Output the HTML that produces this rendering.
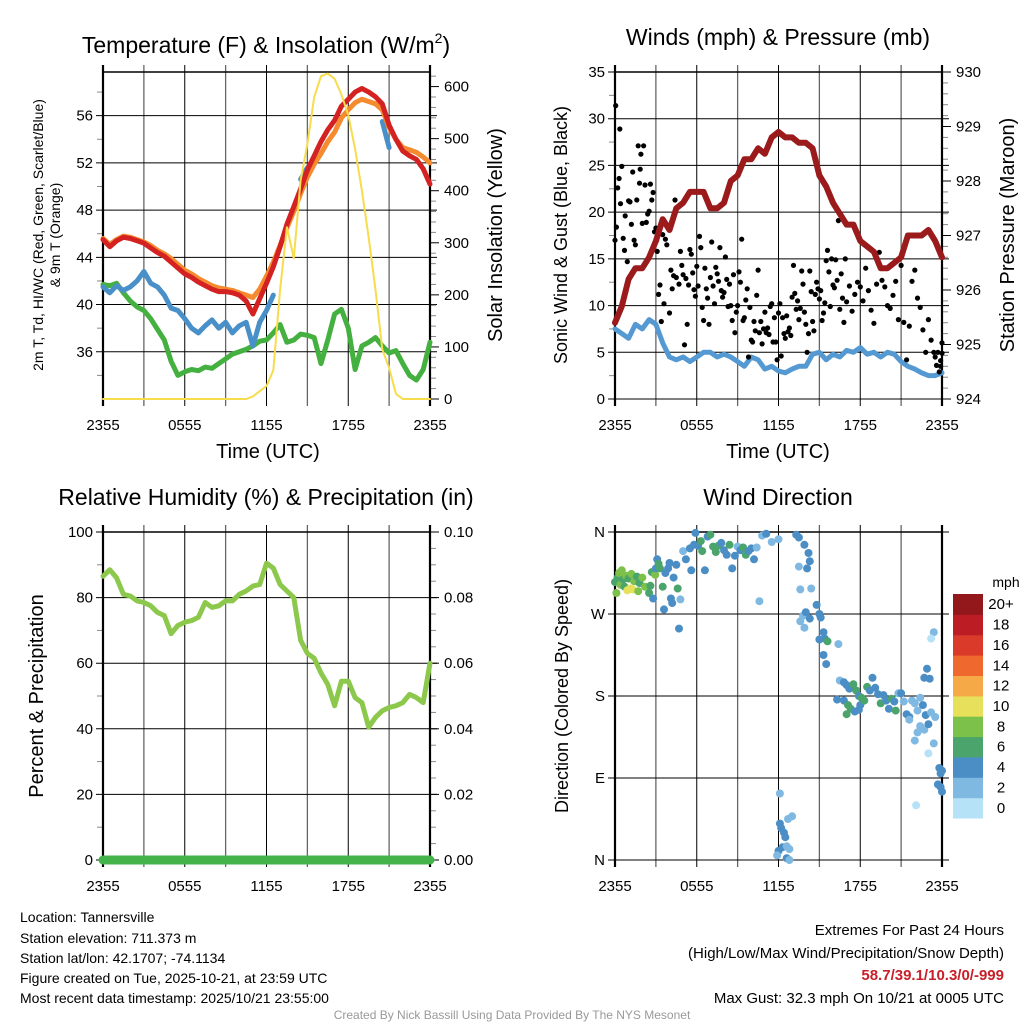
<!DOCTYPE html>
<html><head><meta charset="utf-8">
<style>
html,body{margin:0;padding:0;background:#fff;}
svg{display:block;font-family:"Liberation Sans",sans-serif;}
</style></head>
<body>
<svg id="c" width="1024" height="1024" viewBox="0 0 1024 1024">
<g id="layer"></g>
<text x="20" y="922" font-size="14">Location: Tannersville</text>
<text x="20" y="943" font-size="14">Station elevation: 711.373 m</text>
<text x="20" y="963" font-size="14">Station lat/lon: 42.1707; -74.1134</text>
<text x="20" y="983" font-size="14">Figure created on Tue, 2025-10-21, at 23:59 UTC</text>
<text x="20" y="1003" font-size="14">Most recent data timestamp: 2025/10/21 23:55:00</text>
<text x="1004" y="935" font-size="15" text-anchor="end">Extremes For Past 24 Hours</text>
<text x="1004" y="958" font-size="15" text-anchor="end">(High/Low/Max Wind/Precipitation/Snow Depth)</text>
<text x="1004" y="980" font-size="15" font-weight="bold" fill="#c8202a" text-anchor="end">58.7/39.1/10.3/0/-999</text>
<text x="1004" y="1003" font-size="15" text-anchor="end">Max Gust: 32.3 mph On 10/21 at 0005 UTC</text>
<text x="512" y="1019" font-size="12" fill="#999" text-anchor="middle">Created By Nick Bassill Using Data Provided By The NYS Mesonet</text>
<text x="266" y="53" font-size="23" text-anchor="middle">Temperature (F) &amp; Insolation (W/m<tspan font-size="14" dy="-10">2</tspan><tspan dy="10">)</tspan></text>
</svg>
<script>
// ---- data (time index: half-hour steps from 2355) ----
const xTickLabels = ["2355","0555","1155","1755","2355"];
const tempRed = [45.5,44.9,45.4,45.7,45.6,45.4,45.2,44.8,44.4,44.1,43.6,43.1,42.6,42.3,41.9,41.6,41.3,41.1,41.1,41.0,40.8,40.3,39.2,40.5,41.8,43.2,44.9,46.8,48.3,49.8,51.4,52.6,53.8,54.8,55.6,56.8,57.4,58.0,58.3,58.0,57.6,57.0,55.2,54.0,53.0,52.6,52.3,51.5,50.2];
const tempOrange = [45.6,45.1,45.5,45.8,45.7,45.5,45.3,45.0,44.6,44.3,43.9,43.4,42.9,42.6,42.2,41.9,41.6,41.4,41.3,41.2,41.0,40.8,40.6,41.3,42.4,43.6,45.0,46.5,47.9,49.4,50.8,51.9,52.8,53.8,54.6,55.8,56.5,57.1,57.4,57.2,57.0,56.5,55.0,54.0,53.3,53.1,52.9,52.5,52.0];
const tempBlue = [41.5,41.0,41.6,41.2,41.5,42.0,42.8,41.8,41.5,40.8,39.7,39.5,38.8,38.0,37.6,38.2,38.7,38.0,38.5,37.6,38.2,38.5,36.5,38.5,39.5,40.8,null,null,null,50.6,51.6,52.0,null,null,null,null,null,null,null,null,null,55.5,53.3,null,null,null,null,null,null];
const dewGreen = [41.7,41.6,41.8,41.0,40.3,39.8,39.5,38.8,37.9,37.0,35.2,34.0,34.3,34.5,34.4,34.7,34.6,35.0,35.4,35.8,36.0,36.2,36.5,36.9,37.0,37.6,38.3,36.8,37.0,37.5,37.4,37.2,35.0,37.0,39.2,39.6,38.0,34.5,36.5,36.8,37.2,36.5,35.9,36.1,35.0,34.0,33.6,34.5,36.8];
const solar = [0,0,0,0,0,0,0,0,0,0,0,0,0,0,0,0,0,0,0,0,0,0,5,15,25,55,210,330,270,420,490,580,620,625,615,585,545,480,400,310,210,95,60,10,0,0,0,0,0];
const windBlue = [7.5,7,6.5,8,7.5,8.5,8,6,4.5,4.2,4.5,4,4.5,5,5,4.5,4.8,4.5,4,3.5,4.5,4.2,3.2,3.5,3,2.8,3.2,3.5,3.5,4.8,5,4.2,4.8,4.5,5.2,5,5.5,4.8,5,4.5,5,4.8,4,3.5,3.2,2.8,2.5,2.5,2.8];
const pressure = [925.4,925.7,926.2,926.4,926.4,926.6,926.9,927.3,927.1,927.5,927.6,927.8,927.8,927.8,927.5,927.5,927.6,928.0,928.1,928.4,928.4,928.6,928.5,928.8,928.9,928.8,928.8,928.7,928.7,928.6,928.1,927.9,927.6,927.4,927.2,927.2,926.9,926.8,926.7,926.4,926.4,926.5,926.6,927.0,927.0,927.0,927.1,926.9,926.6];
const gustTime = [0,0.05,0.1,0.2,0.3,0.35,0.4,0.5,0.6,0.7,0.75,0.9,1.0,1.1,1.2,1.3,1.4,1.5,1.6,1.7,1.8,1.85,1.9,2.0,2.1,2.2,2.3,2.4,2.5,2.6,2.7,2.8,2.9,3.0,3.05,3.1,3.2,3.3,3.4,3.5,3.6,3.7,3.8,4.0,4.1,4.2,4.3,4.4,4.5,4.7,4.8,4.9,5.0,5.1,5.2,5.3,5.4,5.5,5.6,5.7,5.8,5.9,6.0,6.1,6.2,6.3,6.4,6.5,6.6,6.7,6.8,6.9,7.0,7.1,7.2,7.3,7.4,7.5,7.6,7.7,7.8,7.9,8.0,8.1,8.2,8.3,8.4,8.5,8.6,8.7,8.8,8.9,9.0,9.1,9.2,9.3,9.4,9.5,9.6,9.7,9.8,9.9,10.0,10.1,10.2,10.3,10.4,10.5,10.6,10.7,10.8,10.9,11.0,11.1,11.2,11.3,11.4,11.5,11.6,11.7,11.8,11.9,12.0,12.1,12.2,12.3,12.4,12.5,12.6,12.7,12.8,12.9,13.0,13.1,13.2,13.3,13.4,13.5,13.6,13.7,13.8,13.9,14.0,14.1,14.2,14.3,14.4,14.5,14.6,14.7,14.8,14.9,15.0,15.1,15.2,15.3,15.4,15.5,15.6,15.7,15.8,15.9,16.0,16.1,16.2,16.3,16.4,16.5,16.6,16.7,16.8,16.9,17.0,17.2,17.4,17.6,17.8,18.0,18.2,18.4,18.6,18.8,19.0,19.2,19.4,19.6,19.8,20.0,20.2,20.4,20.6,20.8,21.0,21.2,21.4,21.6,21.8,22.0,22.2,22.4,22.6,22.8,23.0,23.2,23.4,23.5,23.6,23.7,23.8,23.9,24.0,23.9,24.0];
const gustSpeed = [17,31.4,18.4,22.6,23.6,28.9,20.9,24.9,17.2,15.9,19.6,14.7,21.2,21.1,18.7,24.3,17,16.5,21.3,27.1,23.1,24.6,26.2,18.8,27.1,22.9,18.9,19.8,20.1,23,21.3,22.1,17.9,18.3,17,15.8,11.2,12.2,8.3,17.6,10.2,17.1,16.5,9.2,13.8,11.8,13.2,21.3,13,12.3,15.8,14.3,13.3,5.8,12.9,8,12.2,16,15.5,13.5,11.7,11,14.2,12.1,17.4,16.2,9.8,8.4,14,11.8,10.8,8.0,13,16.8,12.1,10.2,14.1,13.4,12.6,16.2,11.6,10.9,11.4,15.2,12.8,9.9,12.3,10,8.4,13.3,7.1,9.3,10,13.6,12.5,17.1,8.4,8.7,10.6,11.8,4.5,9.8,6.3,6.1,8.3,7.3,11.1,13.8,7.1,8.3,5.9,7.5,9.3,7.1,7.6,6.9,9.9,10.2,6.1,8.7,6.1,4.2,9.2,10.2,4.6,8.7,7.0,6.5,8.9,7.2,7.6,6.8,10.9,14.3,11.3,9.6,10.5,8.5,9.7,13.7,12.3,9.3,8.0,5.0,7.0,13.7,11.5,8.3,7.3,11.2,12.5,11.8,10.7,11.6,8.4,9.2,10.3,14.8,15.9,13.6,9.9,15.0,12.2,11.9,14.9,12.7,19.1,9.6,13.4,10.8,8.2,15.0,10.4,12.1,9.4,11.2,12.5,12.0,10.5,14.0,11.6,9.5,8.1,12.3,15.7,12.7,12.0,10.0,9.7,11.1,12.6,8.5,14.3,8.2,4.2,7.8,12.6,13.8,10.8,9.8,7.4,5.0,8.5,6.3,5.0,4.5,3.6,5.0,2.9,4.1,6.0,3.5,4.9];
const rh = [86.5,88.5,86,81,80.5,79,78.5,77.5,75.5,74.5,69,71.5,72.5,73,74,78.5,77,77.5,79,79,81,82,83.5,84,90.5,89,84,82,80,67,63,61.5,57,53.5,47,54.5,54.5,49.5,48,40.5,43.5,45.5,46.5,47,48,50.5,49.5,48,60];
const precip = [0,0,0,0,0,0,0,0,0,0,0,0,0,0,0,0,0,0,0,0,0,0,0,0,0,0,0,0,0,0,0,0,0,0,0,0,0,0,0,0,0,0,0,0,0,0,0,0,0];
const dirTime = [0.0,0.1,0.2,0.3,0.4,0.5,0.6,0.7,0.8,0.9,1.0,1.1,1.2,1.3,1.4,1.6,1.7,1.8,2.0,2.2,2.5,2.6,2.7,2.8,2.95,3.0,3.1,3.2,3.3,3.5,3.6,3.7,3.9,4.0,4.1,4.2,4.3,4.5,4.6,4.8,4.7,5.0,5.2,5.5,5.6,5.8,5.9,6.1,6.3,6.4,6.6,6.8,7.0,7.2,7.4,7.6,7.8,8.0,8.2,8.4,8.6,8.8,9.0,9.2,9.4,9.6,9.8,10.0,10.2,10.4,10.6,10.8,11.1,11.5,12.0,12.1,12.1,12.2,12.4,12.5,12.3,12.0,11.9,12.6,12.8,12.7,13.0,12.6,12.8,13.3,13.5,13.9,14.2,14.3,14.1,13.5,13.6,14.4,13.8,14.0,14.3,13.9,13.6,14.8,15.0,15.1,15.3,15.4,15.0,15.6,15.3,15.5,16.4,16.5,16.8,17.0,17.2,17.5,17.7,17.9,18.0,18.1,16.3,16.8,17.1,17.3,17.0,17.6,17.9,18.3,18.5,18.7,18.9,19.1,19.3,19.5,19.7,19.9,20.1,20.3,20.5,20.6,20.8,21.0,21.2,21.4,21.6,21.8,22.0,22.2,22.4,22.6,22.8,22.4,22.7,22.2,22.0,21.6,23.0,23.2,23.5,23.4,23.0,23.4,23.2,22.1,23.8,23.9,24.0,23.7,23.9,24.0,22.7,23.1,22.9];
const dirDeg = [305,293,310,315,302,318,308,300,312,296,309,298,314,297,306,311,295,304,310,300,293,301,316,287,313,320,330,325,320,300,275,315,320,326,287,282,310,324,298,286,254,339,330,342,318,346,359,345,350,339,318,355,357,344,338,345,348,340,335,346,320,334,344,340,343,335,339,342,330,343,284,356,358,349,352,73,40,35,30,25,14,10,5,15,12,45,48,2,0,357,354,346,337,328,320,322,297,298,268,272,265,255,262,280,270,266,250,243,242,240,225,215,237,197,195,192,188,193,186,180,170,178,176,175,170,166,160,163,165,175,190,186,200,189,182,172,181,175,166,177,174,164,183,183,174,160,157,175,172,164,178,170,159,147,143,140,131,154,149,162,157,128,117,250,243,60,101,95,98,83,80,75,200,199,210];
const dirSpeed = [7,8,7,8,8,9,6,7,8,11,7,10,8,11,8,7,8,7,9,8,6,6,7,4,8,5,5,6,6,6,4,4,5,4,4,4,5,4,6,2,4,2,4,4,4,4,4,5,6,6,4,4,6,6,6,7,4,4,4,6,4,4,2,4,6,6,4,4,4,3,2,2,4,3,3,3,4,4,4,4,4,4,3,3,2,2,2,4,2,4,4,4,4,4,4,3,3,3,3,4,4,3,3,4,4,4,4,4,4,6,4,4,3,3,4,4,4,6,6,4,4,6,4,4,6,6,6,4,4,6,6,4,4,4,4,6,4,4,4,6,4,6,3,4,3,4,4,3,2,2,3,4,4,3,3,2,2,2,4,3,2,2,1,2,1,1,4,4,4,4,4,4,4,4,4];
const speedBins = ["0","2","4","6","8","10","12","14","16","18","20+"];
const binColors = ["#b5e2f7","#7fb9e2","#4a8ec5","#4aa46c","#7cc14a","#e6e05a","#f5a947","#ef682d","#da3a2a","#bc1d24","#93181b"];

const NS="http://www.w3.org/2000/svg";
const layer=document.getElementById('layer');
function mk(tag,attrs,parent){const e=document.createElementNS(NS,tag);for(const k in attrs)e.setAttribute(k,attrs[k]);(parent||layer).appendChild(e);return e;}
function txt(x,y,s,size,anchor,parent,extra){const t=mk('text',Object.assign({x:x,y:y,'font-size':size,'text-anchor':anchor||'middle'},extra||{}),parent);t.textContent=s;return t;}

function panel(name,x0,x1,y0,y1,yl,yMinL,yMaxL,ticksL,labL,yr,yMinR,yMaxR,ticksR,labR,minorL,minorR){
  const g=mk('g',{});
  
  
  const sx=h=>x0+(h/24)*(x1-x0);
  const syL=v=>y1-(v-yMinL)/(yMaxL-yMinL)*(y1-y0);
  const syR=v=>y1-(v-yMinR)/(yMaxR-yMinR)*(y1-y0);
  for(let h=0;h<=24;h+=3){const l=mk('line',{x1:sx(h),x2:sx(h),y1:y0-7,y2:y1+7,stroke:'#000','stroke-width':(h%6==3)?1.3:1,'stroke-opacity':(h%6==3)?0.6:1},g);
    }
  ticksL.forEach((v,i)=>{const y=syL(v);
    const l=mk('line',{x1:x0-7,x2:x1+7,y1:y,y2:y,stroke:'#000','stroke-width':1},g);
    
    if(labL){const t=txt(x0-10,y+5,labL[i],15,'end',g);}});
  (minorL||[]).forEach(v=>mk('line',{x1:x0-6,x2:x0,y1:syL(v),y2:syL(v),stroke:'#888','stroke-width':1},g));
  (minorR||[]).forEach(v=>mk('line',{x1:x1,x2:x1+6,y1:syR(v),y2:syR(v),stroke:'#888','stroke-width':1},g));
  if(ticksR) ticksR.forEach((v,i)=>{const y=syR(v);mk('line',{x1:x1,x2:x1+9,y1:y,y2:y,stroke:'#000'},g);
    const t=txt(x1+14,y+5,labR[i],15,'start',g);});
  mk('line',{x1:x0,x2:x1,y1:y0,y2:y0,stroke:'#000','stroke-width':1.5},g);
  mk('line',{x1:x0,x2:x0,y1:y0-7,y2:y1+7,stroke:'#000','stroke-width':2.2},g);
  mk('line',{x1:x1,x2:x1,y1:y0-7,y2:y1+7,stroke:'#000','stroke-width':2.2},g);
  xTickLabels.forEach((s,i)=>{const t=txt(sx(i*6),y1+31,s,15,'middle',g);});
  return {g,sx,syL,syR};
}
function line(p,arr,sy,color,w,name){
  let d='',pen=false;
  arr.forEach((v,i)=>{if(v===null){pen=false;return;}d+=(pen?'L':'M')+p.sx(i*0.5).toFixed(1)+','+sy(v).toFixed(1);pen=true;});
  const e=mk('path',{d:d,fill:'none',stroke:color,'stroke-width':w,'stroke-linejoin':'round','stroke-linecap':'round'},p.g);
  return e;
}
function binColor(s){let b=Math.floor(s/2);if(b>10)b=10;if(b<0)b=0;return binColors[b];}

// ---- Panel 1: temperature ----
const p1=panel('temperature-panel',103,430,72,399,true,32,59.7,[36,40,44,48,52,56],["36","40","44","48","52","56"],true,0,628,[0,100,200,300,400,500,600],["0","100","200","300","400","500","600"],[34,38,42,46,50,54,58],[20,40,60,80,120,140,160,180,220,240,260,280,320,340,360,380,420,440,460,480,520,540,560,580,620]);
line(p1,dewGreen,p1.syL,'#44b03f',5,'dewpoint-line');
line(p1,tempBlue,p1.syL,'#4a90c8',5,'heat-index-wind-chill-line');
line(p1,tempOrange,p1.syL,'#f58a2e',5,'temp-9m-line');
line(p1,tempRed,p1.syL,'#d42121',5,'temp-2m-line');
line(p1,solar,p1.syR,'#f7dc4c',2,'solar-insolation-line');
{const t=mk('text',{transform:'translate(268,458)','font-size':20,'text-anchor':'middle'});t.textContent='Time (UTC)';}
{const t=mk('text',{transform:'translate(43,235) rotate(-90)','font-size':14,'text-anchor':'middle'});t.textContent='2m T, Td, HI/WC (Red, Green, Scarlet/Blue)';}
{const t=mk('text',{transform:'translate(60,235) rotate(-90)','font-size':14,'text-anchor':'middle'});t.textContent='& 9m T (Orange)';}
{const t=mk('text',{transform:'translate(502,235) rotate(-90)','font-size':20,'text-anchor':'middle'});t.textContent='Solar Insolation (Yellow)';}

// ---- Panel 2: winds ----
const p2=panel('winds-panel',615,942,72,399,true,0,35,[0,5,10,15,20,25,30,35],["0","5","10","15","20","25","30","35"],true,924,930,[924,925,926,927,928,929,930],["924","925","926","927","928","929","930"],[2.5,7.5,12.5,17.5,22.5,27.5,32.5],[924.2,924.4,924.6,924.8,925.2,925.4,925.6,925.8,926.2,926.4,926.6,926.8,927.2,927.4,927.6,927.8,928.2,928.4,928.6,928.8,929.2,929.4,929.6,929.8]);
line(p2,windBlue,p2.syL,'#5599d3',5,'sonic-wind-line');
gustTime.forEach((h,i)=>{const c=mk('circle',{cx:p2.sx(h).toFixed(1),cy:p2.syL(gustSpeed[i]).toFixed(1),r:2.6,fill:'#000'},p2.g);
  
  });
line(p2,pressure,p2.syR,'#9b1a1c',6,'pressure-line');
txt(778,45,'Winds (mph) & Pressure (mb)',23,'middle');
{const t=mk('text',{transform:'translate(778,458)','font-size':20,'text-anchor':'middle'});t.textContent='Time (UTC)';}
{const t=mk('text',{transform:'translate(567,235) rotate(-90)','font-size':18,'text-anchor':'middle'});t.textContent='Sonic Wind & Gust (Blue, Black)';}
{const t=mk('text',{transform:'translate(1014,235) rotate(-90)','font-size':20,'text-anchor':'middle'});t.textContent='Station Pressure (Maroon)';}

// ---- Panel 3: RH ----
const p3=panel('humidity-panel',103,430,532,860,true,0,100,[0,20,40,60,80,100],["0","20","40","60","80","100"],true,0,0.1,[0,0.02,0.04,0.06,0.08,0.1],["0.00","0.02","0.04","0.06","0.08","0.10"],[10,30,50,70,90],[0.005,0.01,0.015,0.025,0.03,0.035,0.045,0.05,0.055,0.065,0.07,0.075,0.085,0.09,0.095]);
line(p3,rh,p3.syL,'#8cc84b',5,'relative-humidity-line');
line(p3,precip,p3.syR,'#44b34a',9,'precipitation-line');
txt(266,505,'Relative Humidity (%) & Precipitation (in)',23,'middle');
{const t=mk('text',{transform:'translate(43,696) rotate(-90)','font-size':20,'text-anchor':'middle'});t.textContent='Percent & Precipitation';}

// ---- Panel 4: wind direction ----
const p4=panel('wind-direction-panel',615,942,532,860,true,0,360,[0,90,180,270,360],["N","E","S","W","N"],false,0,1,null,null,null,null);
dirTime.forEach((h,i)=>{const c=mk('circle',{cx:p4.sx(h).toFixed(1),cy:p4.syL(dirDeg[i]).toFixed(1),r:4,fill:binColor(dirSpeed[i])},p4.g);
  
  });
txt(778,505,'Wind Direction',23,'middle');
{const t=mk('text',{transform:'translate(568,696) rotate(-90)','font-size':18,'text-anchor':'middle'});t.textContent='Direction (Colored By Speed)';}
const cb=mk('g',{});


const cbTop=594,cbBot=818,cbH=(cbBot-cbTop)/speedBins.length;
txt(1006,587,'mph',14,'middle',cb);
binColors.forEach((col,i)=>{const y=cbBot-(i+1)*cbH;
  const r=mk('rect',{x:953,y:y.toFixed(1),width:30,height:(cbH+0.5).toFixed(1),fill:col},cb);
  
  
  const t=txt(1001,(y+cbH/2+5).toFixed(1),speedBins[i],15,'middle',cb);
  
  });
</script>
</body></html>
